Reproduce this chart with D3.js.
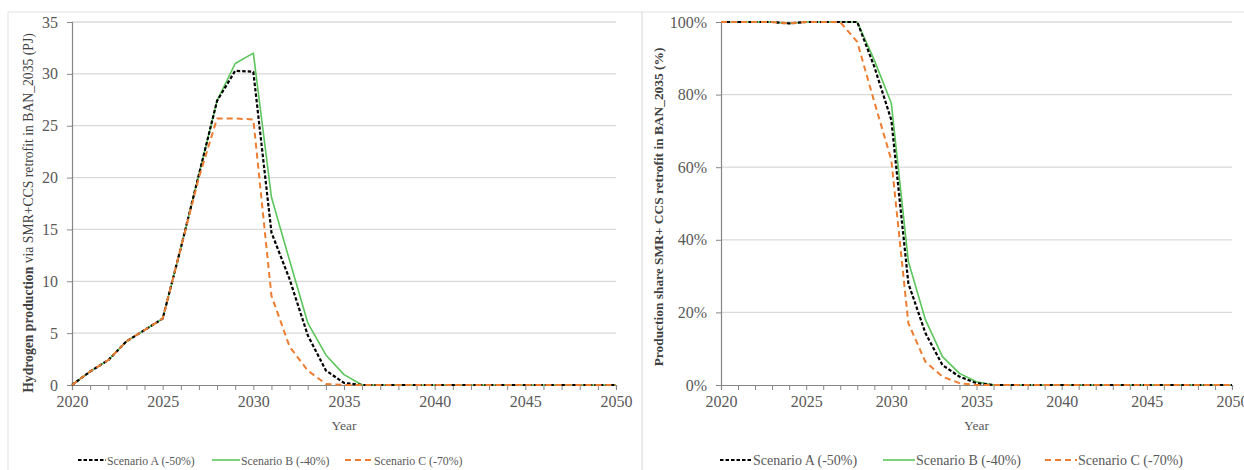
<!DOCTYPE html>
<html>
<head>
<meta charset="utf-8">
<script src="https://cdn.jsdelivr.net/npm/d3@7"></script>
<style>
  body { margin: 0; background: #fff; }
  svg { display: block; }
  text { font-family: "Liberation Serif", "Times New Roman", serif; }
</style>
</head>
<body>
<svg id="mainsvg" width="1244" height="470"></svg>
<script>
// years on the x axis
const years = d3.range(2020, 2051)
const xTicks = [2020, 2025, 2030, 2035, 2040, 2045, 2050]

// left chart: hydrogen production via SMR+CCS retrofit (PJ)
const prodA = [0, 1.3, 2.4, 4.2, 5.3, 6.4, 13.2, 20.3, 27.4, 30.3, 30.2, 14.7, 10.2, 4.8, 1.4, 0.2, 0,
  0, 0, 0, 0, 0, 0, 0, 0, 0, 0, 0, 0, 0, 0]
const prodB = [0, 1.3, 2.4, 4.2, 5.3, 6.4, 13.2, 20.3, 27.4, 31.0, 32.0, 18.1, 12.0, 6.0, 2.9, 1.0, 0,
  0, 0, 0, 0, 0, 0, 0, 0, 0, 0, 0, 0, 0, 0]
const prodC = [0, 1.3, 2.4, 4.2, 5.3, 6.4, 13.2, 20.0, 25.7, 25.7, 25.6, 8.6, 3.7, 1.4, 0.1, 0, 0,
  0, 0, 0, 0, 0, 0, 0, 0, 0, 0, 0, 0, 0, 0]
const prodTicks = [0, 5, 10, 15, 20, 25, 30, 35]

// right chart: production share (%)
const shareA = [100, 100, 100, 100, 99.6, 100, 100, 100, 100, 87.7, 73, 28, 14.3, 5.5, 2.3, 0.5, 0,
  0, 0, 0, 0, 0, 0, 0, 0, 0, 0, 0, 0, 0, 0]
const shareB = [100, 100, 100, 100, 99.6, 100, 100, 100, 100, 89.5, 77.6, 34, 18, 7.8, 3.2, 0.9, 0,
  0, 0, 0, 0, 0, 0, 0, 0, 0, 0, 0, 0, 0, 0]
const shareC = [100, 100, 100, 100, 99.6, 100, 100, 100, 94.5, 78, 62, 17, 6.4, 2.3, 0.5, 0, 0,
  0, 0, 0, 0, 0, 0, 0, 0, 0, 0, 0, 0, 0, 0]
const shareTicks = [0, 20, 40, 60, 80, 100]

const seriesNames = ['Scenario A (-50%)', 'Scenario B (-40%)', 'Scenario C (-70%)']
const seriesColors = ['#000000', '#5cc65c', '#ed7d31']
const seriesDash = ['3.5,2', null, '6,4']
const seriesWidth = [2.2, 1.6, 2]

const textColor = '#595959'
const svg = d3.select('#mainsvg')

svg.append('rect').attr('x', 0).attr('y', 0).attr('width', 1244).attr('height', 470).attr('fill', '#fff')

function drawPanel(cfg) {
    const g = svg.append('g')
    // panel frame
    g.append('rect')
        .attr('x', cfg.frame[0]).attr('y', cfg.frame[1])
        .attr('width', cfg.frame[2]).attr('height', cfg.frame[3])
        .attr('fill', 'none').attr('stroke', '#e4e4e4').attr('stroke-width', 1)

    const x = d3.scaleLinear().domain([2020, 2050]).range([cfg.left, cfg.right])
    const y = d3.scaleLinear().domain([0, cfg.yMax]).range([cfg.bottom, cfg.top])

    // gridlines
    g.append('g').selectAll('line').data(cfg.yTicks.filter(d => d > 0)).join('line')
        .attr('x1', cfg.left).attr('x2', cfg.right)
        .attr('y1', d => y(d)).attr('y2', d => y(d))
        .attr('stroke', '#d9d9d9').attr('stroke-width', 1.3)

    // y axis
    const yAxis = g.append('g')
        .attr('transform', `translate(${cfg.left},0)`)
        .call(d3.axisLeft(y).tickValues(cfg.yTicks).tickSize(5).tickPadding(9).tickFormat(cfg.yFormat))
    yAxis.select('.domain').attr('stroke', '#868686').attr('stroke-width', 1.2)
    yAxis.selectAll('.tick line').attr('stroke', '#868686')
    yAxis.selectAll('text').attr('fill', textColor).style('font-size', '16px')
        .style('font-family', '"Liberation Serif", serif')

    // x axis with yearly ticks
    const xAxis = g.append('g')
        .attr('transform', `translate(0,${cfg.bottom})`)
        .call(d3.axisBottom(x).tickValues(years).tickSize(5).tickPadding(6)
            .tickFormat(d => xTicks.includes(d) ? d : ''))
    xAxis.select('.domain').attr('stroke', '#868686').attr('stroke-width', 1.2)
    xAxis.selectAll('.tick line').attr('stroke', '#868686')
    xAxis.selectAll('text').attr('fill', textColor).style('font-size', '16px')
        .style('font-family', '"Liberation Serif", serif')

    // series
    const line = d3.line().x((d, i) => x(years[i])).y(d => y(d))
    const order = [1, 0, 2]
    order.forEach(k => {
        g.append('path')
            .attr('d', line(cfg.series[k]))
            .attr('fill', 'none')
            .attr('stroke', seriesColors[k])
            .attr('stroke-width', seriesWidth[k])
            .attr('stroke-dasharray', seriesDash[k])
            .attr('stroke-linejoin', 'round')
    })

    // axis titles
    const yt = g.append('text')
        .attr('transform', `translate(${cfg.titleX},${cfg.titleY}) rotate(-90)`)
        .attr('text-anchor', 'middle')
        .attr('fill', '#404040')
        .style('font-size', cfg.titleSize)
    cfg.title.forEach(part => {
        yt.append('tspan').text(part[0]).attr('font-weight', part[1] ? 'bold' : 'normal')
    })
    g.append('text')
        .attr('x', (cfg.left + cfg.right) / 2).attr('y', 430)
        .attr('text-anchor', 'middle').attr('fill', textColor)
        .style('font-size', '13.5px')
        .text('Year')

    // legend
    const lg = g.append('g')
    cfg.legendX.forEach((lx, k) => {
        lg.append('line')
            .attr('x1', lx).attr('x2', lx + cfg.legendLine)
            .attr('y1', 460).attr('y2', 460)
            .attr('stroke', seriesColors[k])
            .attr('stroke-width', seriesWidth[k])
            .attr('stroke-dasharray', seriesDash[k])
        lg.append('text')
            .attr('x', lx + cfg.legendLine + 1).attr('y', 465)
            .attr('fill', textColor)
            .style('font-size', cfg.legendSize)
            .text(seriesNames[k])
    })
}

drawPanel({
    frame: [8, 12, 634, 470],
    left: 72, right: 616, top: 22, bottom: 385,
    yMax: 35, yTicks: prodTicks, yFormat: d => d,
    series: [prodA, prodB, prodC],
    title: [['Hydrogen production', true], [' via  SMR+CCS retrofit in BAN_2035 (PJ)', false]],
    titleX: 33, titleY: 213, titleSize: '13.7px',
    legendX: [78, 212, 345], legendLine: 28, legendSize: '11.8px'
})

drawPanel({
    frame: [642, 12, 620, 470],
    left: 721, right: 1232, top: 22, bottom: 385,
    yMax: 100, yTicks: shareTicks, yFormat: d => d + '%',
    series: [shareA, shareB, shareC],
    title: [['Production share SMR+ CCS retrofit in BAN_2035 (%)', true]],
    titleX: 663, titleY: 207, titleSize: '13.4px',
    legendX: [720, 883, 1045], legendLine: 32, legendSize: '14px'
})
</script>
</body>
</html>
